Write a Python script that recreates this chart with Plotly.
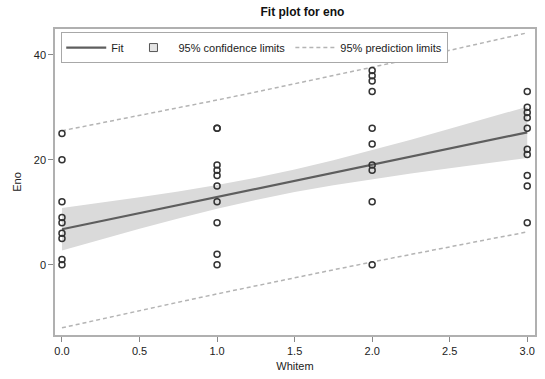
import plotly.graph_objects as go

# Observations (Whitem, Eno)
x0_vals = [25, 20, 12, 9, 8, 6, 5, 1, 0]
x1_vals = [26, 26, 19, 18, 17, 15, 12, 8, 2, 0]
x2_vals = [37, 36, 35, 33, 26, 23, 19, 18, 12, 0]
x3_vals = [33, 30, 29, 28, 26, 22, 21, 17, 15, 8]

# Fit, confidence and prediction limits read at a grid of Whitem values
grid_x = [0, 0.25, 0.5, 0.75, 1, 1.25, 1.5, 1.75, 2, 2.25, 2.5, 2.75, 3]
fit_y = [6.75, 8.29, 9.83, 11.36, 12.9, 14.44, 15.98, 17.51, 19.05, 20.59, 22.13, 23.66, 25.2]
cl_lower = [2.70, 4.79, 6.83, 8.78, 10.64, 12.33, 13.83, 15.12, 16.29, 17.36, 18.38, 19.35, 20.30]
cl_upper = [10.80, 11.79, 12.83, 13.94, 15.16, 16.55, 18.13, 19.90, 21.81, 23.82, 25.88, 27.97, 30.10]
pl_lower = [-12.02, -10.37, -8.74, -7.15, -5.57, -4.01, -2.48, -0.98, 0.51, 1.98, 3.42, 4.83, 6.23]
pl_upper = [25.52, 26.95, 28.40, 29.87, 31.37, 32.89, 34.44, 36.00, 37.59, 39.20, 40.84, 42.49, 44.17]

x_ticks = [0.0, 0.5, 1.0, 1.5, 2.0, 2.5, 3.0]
x_tick_text = ["0.0", "0.5", "1.0", "1.5", "2.0", "2.5", "3.0"]
y_ticks = [0, 20, 40]

obs_x = [0] * len(x0_vals) + [1] * len(x1_vals) + [2] * len(x2_vals) + [3] * len(x3_vals)
obs_y = x0_vals + x1_vals + x2_vals + x3_vals

FONT = "Liberation Sans, Arial, sans-serif"

fig = go.Figure()

fig.add_trace(go.Scatter(x=grid_x, y=cl_lower, mode="lines", line=dict(width=0, color="#dadada"),
                         showlegend=False, hoverinfo="skip"))
fig.add_trace(go.Scatter(x=grid_x, y=cl_upper, mode="lines", line=dict(width=0, color="#dadada"),
                         fill="tonexty", fillcolor="#dadada", showlegend=False))
# legend-only entry for the confidence band (outlined square like the original)
fig.add_trace(go.Scatter(x=[None], y=[None], mode="markers", name="95% confidence limits",
                         marker=dict(symbol="square", size=8, color="#e4e4e4",
                                     line=dict(color="#555555", width=1)),
                         legendrank=2))
fig.add_trace(go.Scatter(x=grid_x, y=pl_upper, mode="lines",
                         line=dict(color="#b4b4b4", width=1.5, dash="4px,3px"),
                         name="95% prediction limits", legendgroup="pl", legendrank=3))
fig.add_trace(go.Scatter(x=grid_x, y=pl_lower, mode="lines",
                         line=dict(color="#b4b4b4", width=1.5, dash="4px,3px"),
                         showlegend=False, legendgroup="pl"))
fig.add_trace(go.Scatter(x=grid_x, y=fit_y, mode="lines", line=dict(color="#5e5e5e", width=2.2),
                         name="Fit", legendrank=1))
fig.add_trace(go.Scatter(x=obs_x, y=obs_y, mode="markers",
                         marker=dict(symbol="circle-open", size=6, color="#333333", line=dict(width=1.5)),
                         showlegend=False))

fig.update_layout(
    width=545, height=379,
    margin=dict(l=55, r=8, t=29, b=42),
    paper_bgcolor="white", plot_bgcolor="white",
    font=dict(family=FONT, size=11, color="#222222"),
    title=dict(text="<b>Fit plot for eno</b>", x=0.555, xanchor="center", y=0.968, yanchor="middle",
               yref="container", font=dict(size=12, family=FONT, color="#111111")),
    legend=dict(orientation="h", x=0.013, y=0.99, xanchor="left", yanchor="top",
                bordercolor="#a8a8a8", borderwidth=1, bgcolor="white",
                font=dict(size=11, family=FONT), tracegroupgap=0,
                itemwidth=40),
    showlegend=True,
)
fig.update_xaxes(range=[-0.045, 3.05], tickvals=x_ticks, ticktext=x_tick_text,
                 showgrid=False, zeroline=False, showline=True, mirror=True, linecolor="#b0b0b0", linewidth=1.5,
                 ticks="outside", ticklen=5, tickcolor="#888888",
                 title=dict(text="Whitem", font=dict(size=11), standoff=6))
fig.update_yaxes(range=[-13.4, 44.9], tickvals=y_ticks,
                 showgrid=False, zeroline=False, showline=True, mirror=True, linecolor="#b0b0b0", linewidth=1.5,
                 ticks="outside", ticklen=5, tickcolor="#888888",
                 title=dict(text="Eno", font=dict(size=11), standoff=10))

fig.write_html("out.html")
